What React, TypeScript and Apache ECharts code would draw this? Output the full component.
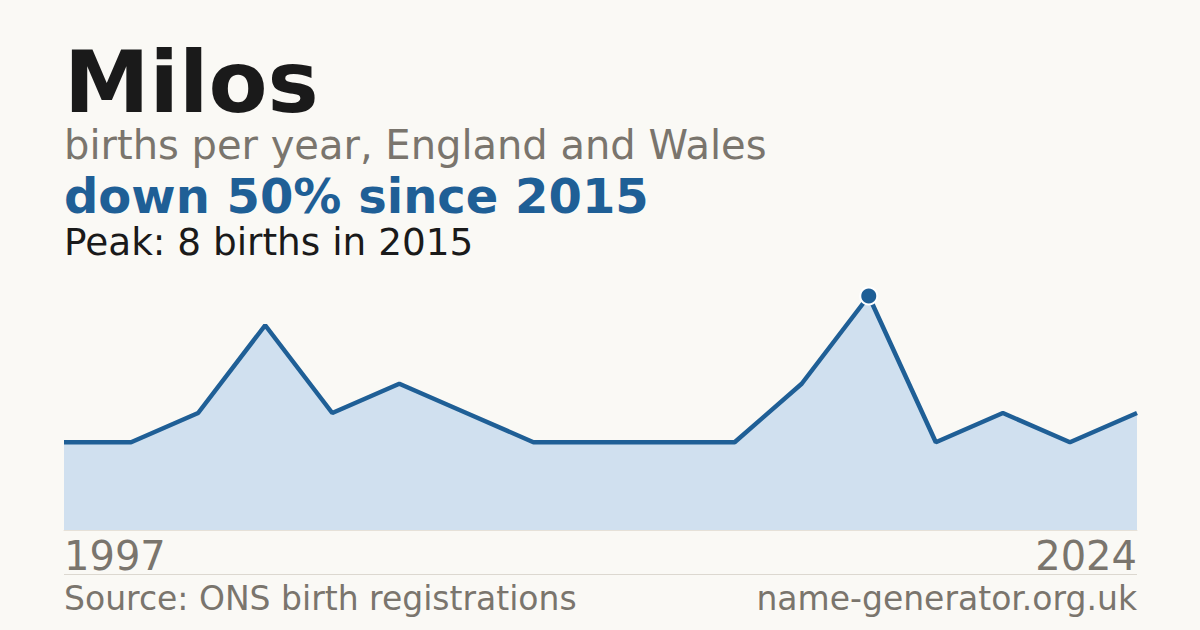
import React, { useEffect, useRef } from 'react';
import * as echarts from 'echarts';

const years = [
  '1997', '1998', '1999', '2000', '2001', '2002', '2003', '2006', '2008',
  '2010', '2012', '2014', '2015', '2016', '2019', '2021', '2024',
];
const births = [3, 3, 4, 7, 4, 5, 4, 3, 3, 3, 3, 5, 8, 3, 4, 3, 4];
const peakYear = '2015';
const peakValue = 8;

const FONT = '"DejaVu Sans", sans-serif';
const BLUE = '#1f5f96';
const GREY = '#7a756d';

const App: React.FC = () => {
  const chartRef = useRef<HTMLDivElement>(null);

  useEffect(() => {
    if (!chartRef.current) return;
    const chart = echarts.init(chartRef.current, undefined, { renderer: 'svg' });

    const option: echarts.EChartsOption = {
      animation: false,
      backgroundColor: '#faf9f5',
      grid: { left: 64, right: 63, top: 296, bottom: 100 },
      xAxis: {
        type: 'category',
        data: years,
        boundaryGap: false,
        axisTick: { show: false },
        axisLine: { show: true, lineStyle: { color: '#e6e1d8', width: 1 } },
        axisLabel: {
          interval: (i: number) => i === 0 || i === years.length - 1,
          alignMinLabel: 'left',
          alignMaxLabel: 'right',
          color: GREY,
          fontFamily: FONT,
          fontSize: 40,
          margin: 6,
        },
      },
      yAxis: {
        type: 'value',
        min: 0,
        max: peakValue,
        show: false,
      },
      series: [
        {
          type: 'line',
          data: births,
          showSymbol: false,
          clip: false,
          lineStyle: { color: BLUE, width: 4.5 },
          areaStyle: { color: '#d0e0ef', opacity: 1 },
          markPoint: {
            symbol: 'circle',
            symbolSize: 17,
            itemStyle: { color: BLUE, borderColor: '#ffffff', borderWidth: 2 },
            label: { show: false },
            data: [{ coord: [peakYear, peakValue] }],
          },
        },
      ],
      graphic: [
        {
          type: 'text',
          left: 64,
          top: 39,
          style: { text: 'Milos', fontFamily: FONT, fontWeight: 'bold', fontSize: 86, lineHeight: 80, fill: '#1a1a1a' },
        },
        {
          type: 'text',
          left: 64,
          top: 125,
          style: { text: 'births per year, England and Wales', fontFamily: FONT, fontSize: 40, lineHeight: 40, fill: GREY },
        },
        {
          type: 'text',
          left: 64,
          top: 172,
          style: { text: 'down 50% since 2015', fontFamily: FONT, fontWeight: 'bold', fontSize: 48, lineHeight: 46, fill: BLUE },
        },
        {
          type: 'text',
          left: 64,
          top: 223,
          style: { text: 'Peak: 8 births in 2015', fontFamily: FONT, fontSize: 37.4, lineHeight: 37, fill: '#1a1a1a' },
        },
        {
          type: 'line',
          shape: { x1: 64, y1: 574.5, x2: 1137, y2: 574.5 },
          style: { stroke: '#dcd8d0', lineWidth: 1 },
        },
        {
          type: 'text',
          left: 64,
          top: 582,
          style: { text: 'Source: ONS birth registrations', fontFamily: FONT, fontSize: 33, fill: GREY },
        },
        {
          type: 'text',
          right: 63,
          top: 582,
          style: { text: 'name-generator.org.uk', fontFamily: FONT, fontSize: 33, fill: GREY },
        },
      ],
    };

    chart.setOption(option);
    return () => {
      chart.dispose();
    };
  }, []);

  return (
    <div
      ref={chartRef}
      style={{ width: 1200, height: 630, position: 'fixed', left: 0, top: 0 }}
    ></div>
  );
};

export default App;
